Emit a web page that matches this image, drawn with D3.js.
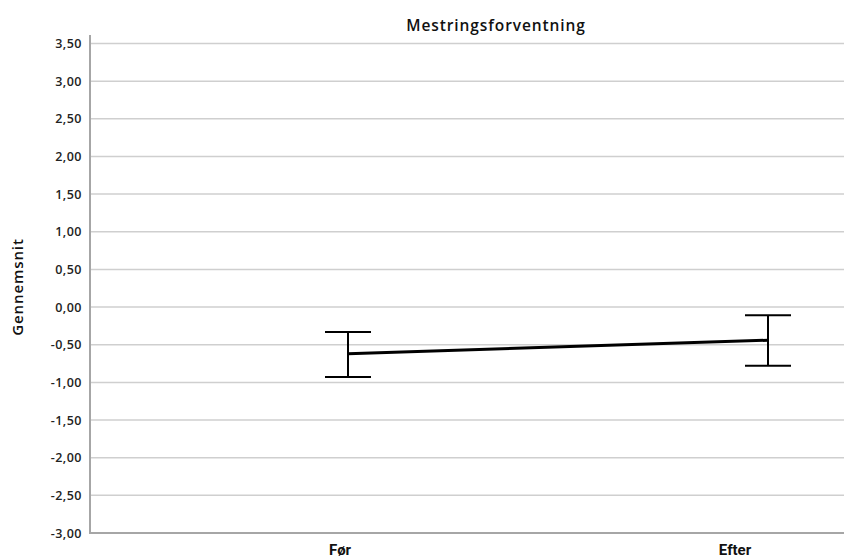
<!DOCTYPE html>
<html><head><meta charset="utf-8">
<script src="https://cdn.jsdelivr.net/npm/d3@7"></script>
<style>body{margin:0;background:#fff}</style>
</head><body>
<svg id="c" width="844" height="558"></svg>
<script>
const categories = ["Før", "Efter"];
const means = [-0.62, -0.44];
const upper = [-0.33, -0.11];
const lower = [-0.93, -0.78];
const yTicks = [3.5,3,2.5,2,1.5,1,0.5,0,-0.5,-1,-1.5,-2,-2.5,-3];
const title = "Mestringsforventning";
const yTitle = "Gennemsnit";

(function(){
const svg = d3.select("#c");
const font = "'Open Sans', 'Noto Sans', sans-serif";
const mLeft = 90, mRight = 844, mTop = 43.5, mBottom = 533;
const y = d3.scaleLinear().domain([-3, 3.5]).range([mBottom, mTop]);
const x = d3.scalePoint().domain(categories).range([348, 768]);
const xl = d3.scalePoint().domain(categories).range([340, 735]);

svg.append("g").selectAll("line").data(yTicks.filter(t => t !== -3)).join("line")
  .attr("x1", mLeft).attr("x2", mRight)
  .attr("y1", d => y(d)).attr("y2", d => y(d))
  .attr("stroke", "#cfcfcf").attr("stroke-width", 1.5);

const yAxis = d3.axisLeft(y).tickValues(yTicks).tickSize(0).tickPadding(8)
  .tickFormat(d => d3.format(".2f")(d).replace(".", ",").replace("−", "-"));
const ga = svg.append("g").attr("transform", `translate(${mLeft},0)`).call(yAxis);
ga.select(".domain").remove();
ga.selectAll("text").attr("font-family", font).attr("font-size", 12.5).attr("font-weight", 600)
  .attr("letter-spacing", "0.5px").attr("fill", "#222");

svg.append("line").attr("x1", mLeft).attr("x2", mLeft).attr("y1", 35).attr("y2", mBottom)
  .attr("stroke", "#a6a6a6").attr("stroke-width", 2);
svg.append("line").attr("x1", mLeft - 1).attr("x2", mRight).attr("y1", mBottom).attr("y2", mBottom)
  .attr("stroke", "#a6a6a6").attr("stroke-width", 2);

svg.append("g").selectAll("text").data(categories).join("text")
  .attr("x", d => xl(d)).attr("y", 555).attr("text-anchor", "middle")
  .attr("font-family", "Roboto, sans-serif").attr("font-weight", 700).attr("font-size", 15)
  .attr("fill", "#111").text(d => d);

const data = categories.map((c, i) => ({c, m: means[i], u: upper[i], l: lower[i]}));
const eb = svg.append("g").attr("stroke", "#000").attr("stroke-width", 2);
data.forEach(d => {
  eb.append("line").attr("x1", x(d.c)).attr("x2", x(d.c)).attr("y1", y(d.u)).attr("y2", y(d.l));
  eb.append("line").attr("x1", x(d.c) - 23).attr("x2", x(d.c) + 23).attr("y1", y(d.u)).attr("y2", y(d.u));
  eb.append("line").attr("x1", x(d.c) - 23).attr("x2", x(d.c) + 23).attr("y1", y(d.l)).attr("y2", y(d.l));
});

svg.append("path").datum(data)
  .attr("d", d3.line().x(d => x(d.c)).y(d => y(d.m)))
  .attr("fill", "none").attr("stroke", "#000").attr("stroke-width", 3);

svg.append("text").attr("x", 496).attr("y", 31).attr("text-anchor", "middle")
  .attr("font-family", font).attr("font-weight", 600).attr("font-size", 15.5)
  .attr("letter-spacing", "0.9px").attr("fill", "#111").text(title);
svg.append("text").attr("transform", "translate(23,287) rotate(-90)").attr("text-anchor", "middle")
  .attr("font-family", font).attr("font-weight", 600).attr("font-size", 15)
  .attr("letter-spacing", "0.9px").attr("fill", "#111").text(yTitle);
})();
</script>
</body></html>
